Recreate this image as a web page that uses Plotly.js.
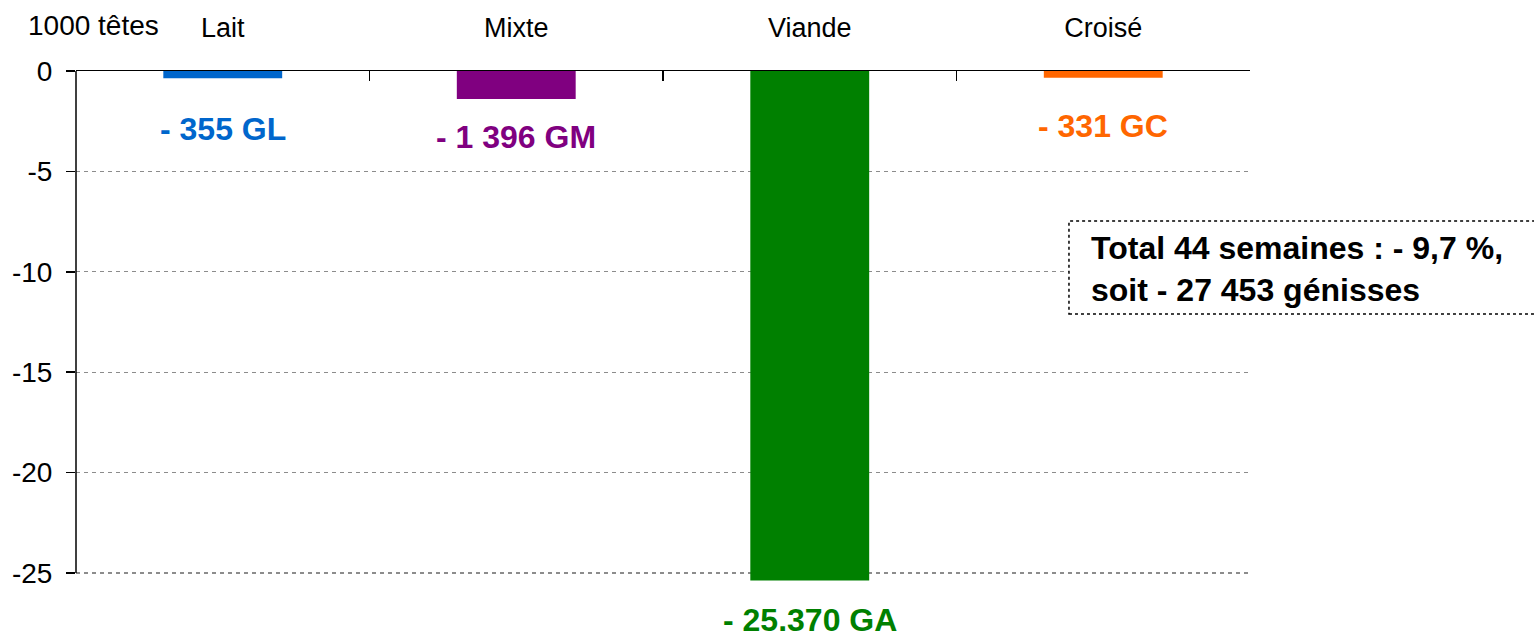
<!DOCTYPE html>
<html>
<head>
<meta charset="utf-8">
<script src="https://cdn.plot.ly/plotly-3.0.1.min.js"></script>
<style>html,body{margin:0;padding:0;background:#fff}#chart{width:1534px;height:638px}</style>
</head>
<body>
<div id="chart"></div>
<script>
// Data (1000 têtes)
const categories = ["Lait", "Mixte", "Viande", "Croisé"];
const values = [-0.355, -1.396, -25.370, -0.331];
const valueLabels = ["- 355 GL", "- 1 396 GM", "- 25.370 GA", "- 331 GC"];
const barColors = ["#0066CC", "#800080", "#008000", "#FF6600"];
const labelShifts = [-32, -19, -21, -29];
const yTickVals = [0, -5, -10, -15, -20, -25];
const yTickText = ["0", "-5", "-10", "-15", "-20", "-25"];
const unitLabel = "1000 têtes";
const totalText = "Total 44 semaines : - 9,7 %,<br>soit - 27 453 génisses";

const FONT = "Liberation Sans, Arial, sans-serif";

const trace = {
  type: "bar",
  x: categories,
  y: values,
  marker: {color: barColors, line: {width: 0}},
  hoverinfo: "skip",
  showlegend: false
};

const annotations = categories.map((c, i) => ({
  x: c, y: values[i], xref: "x", yref: "y",
  text: "<b>" + valueLabels[i] + "</b>",
  showarrow: false, yanchor: "top", yshift: labelShifts[i], borderpad: 0,
  font: {family: FONT, size: 32, color: barColors[i]}
}));
annotations.push({
  xref: "paper", yref: "paper", x: -0.043, y: 1.09,
  xanchor: "left", yanchor: "middle", showarrow: false,
  text: unitLabel, font: {family: FONT, size: 28, color: "#000"}
});
annotations.push({
  xref: "paper", yref: "paper", x: 0.8625, y: 0.612,
  xanchor: "left", yanchor: "middle", align: "left", showarrow: false,
  text: "<b>" + totalText + "</b>",
  font: {family: FONT, size: 32, color: "#000"}
});

const layout = {
  width: 1534, height: 638,
  margin: {l: 76, r: 284, t: 71, b: 57},
  paper_bgcolor: "#fff", plot_bgcolor: "#fff",
  bargap: 0.595,
  font: {family: FONT, size: 28, color: "#000"},
  xaxis: {
    type: "category", side: "top",
    showline: true, linecolor: "#000", linewidth: 1.5,
    ticks: "inside", ticklen: 10, tickwidth: 1.5, tickcolor: "#000",
    tickson: "boundaries", ticklabelstandoff: 22,
    showgrid: false, zeroline: false,
    tickfont: {family: FONT, size: 27, color: "#000"},
    fixedrange: true
  },
  yaxis: {
    range: [-25.4, 0],
    tickvals: yTickVals, ticktext: yTickText,
    ticks: "outside", ticklen: 9, tickwidth: 1.5, tickcolor: "#000",
    ticklabelstandoff: 8,
    showline: false, zeroline: false,
    showgrid: true, gridcolor: "#8c8c8c", gridwidth: 1.3, griddash: "4px,4px",
    tickfont: {family: FONT, size: 28, color: "#000"},
    fixedrange: true
  },
  shapes: [
    {type: "line", xref: "paper", yref: "y", x0: 0, x1: 0, y0: -25, y1: 0,
     line: {color: "#000", width: 1.5}},
    {type: "rect", xref: "paper", yref: "paper", x0: 0.8458, x1: 1.25, y0: 0.5235, y1: 0.706,
     fillcolor: "#fff", line: {color: "#000", width: 1.5, dash: "dot"}, layer: "above"}
  ],
  annotations: annotations
};

Plotly.newPlot("chart", [trace], layout, {displayModeBar: false, staticPlot: true});
</script>
</body>
</html>
